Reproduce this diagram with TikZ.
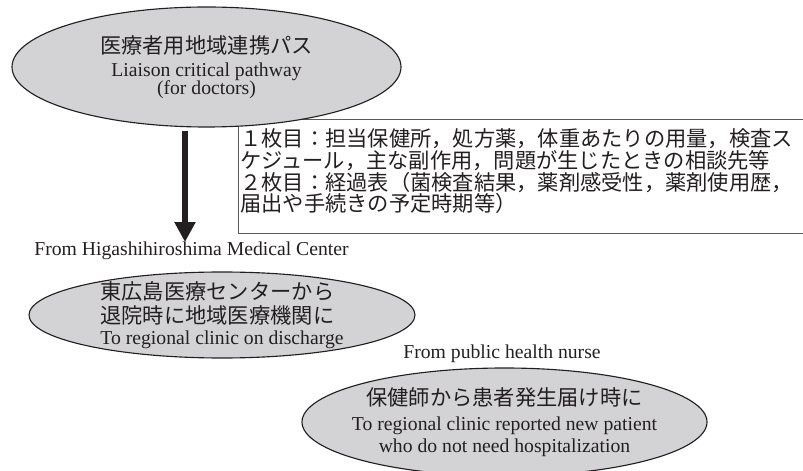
\documentclass[tikz,border=0pt]{standalone}
\usepackage{fontspec}
\setmainfont{Liberation Serif}
\newfontfamily\jpfont[Scale=1.08]{Noto Sans CJK JP}
\usetikzlibrary{arrows.meta, shapes.geometric}
\definecolor{ovalgray}{RGB}{211,211,213}
\definecolor{inkblack}{RGB}{35,31,32}
\definecolor{framegray}{RGB}{90,90,90}

\begin{document}
\begin{tikzpicture}[
  oval/.style={ellipse, draw=inkblack, fill=ovalgray, line width=0.8pt,
    inner xsep=-0.5cm, inner ysep=-0.1cm, text=inkblack,
    font=\fontsize{14}{15.6}\selectfont},
  caption/.style={anchor=base, inner sep=0pt, text=inkblack,
    font=\fontsize{14}{15.6}\selectfont},
  cardframe/.style={draw=framegray, line width=0.7pt, anchor=north west,
    minimum width=14.5cm, minimum height=2.85cm, inner sep=0pt},
  cardtext/.style={anchor=north west, inner sep=0pt, align=left, text=inkblack,
    font=\jpfont\fontsize{14}{15.6}\selectfont},
  bigarrow/.style={-{Triangle[width=0.5cm,length=0.5cm]}, line width=0.15cm, inkblack}
]
  \clip (0,0) rectangle (20.075,11.75);

  % the two sheets of the pathway
  \node[cardframe] (card) at (5.95,8.775) {};
  \node[cardtext] (cardtxt) at ([xshift=0.05cm,yshift=-0.225cm]card.north west)
    {１枚目：担当保健所，処方薬，体重あたりの用量，検査ス\\
     ケジュール，主な副作用，問題が生じたときの相談先等\\
     ２枚目：経過表（菌検査結果，薬剤感受性，薬剤使用歴，\\
     届出や手続きの予定時期等）};

  % ovals
  \node[oval, minimum width=9.725cm, minimum height=3cm, align=center] (doc) at (5.1625,10.075)
    {{\jpfont 医療者用地域連携パス}\\[0.7pt]Liaison critical pathway\\[-2.8pt](for doctors)};
  \node[caption] (fromhc) at (4.7875,5.35) {From Higashihiroshima Medical Center};
  \node[oval, minimum width=9.65cm, minimum height=2.15cm, align=left] (hosp) at (5.55,3.875)
    {{\jpfont 東広島医療センターから}\\[1.4pt]{\jpfont 退院時に地域医療機関に}\\[-0.7pt]To regional clinic on discharge};
  \node[caption] (fromphn) at (12.55,2.8) {From public health nurse};
  \node[oval, minimum width=10.125cm, minimum height=2.7cm, align=center] (nurse) at (12.6125,1.2)
    {{\jpfont 保健師から患者発生届け時に}\\[2.2pt]To regional clinic reported new patient\\who do not need hospitalization};

  % arrow down to the clinic
  \coordinate (arrowtop) at ([xshift=-0.5375cm,yshift=-0.075cm]doc.south);
  \draw[bigarrow] (arrowtop) -- (arrowtop |- fromhc.north);
\end{tikzpicture}
\end{document}
